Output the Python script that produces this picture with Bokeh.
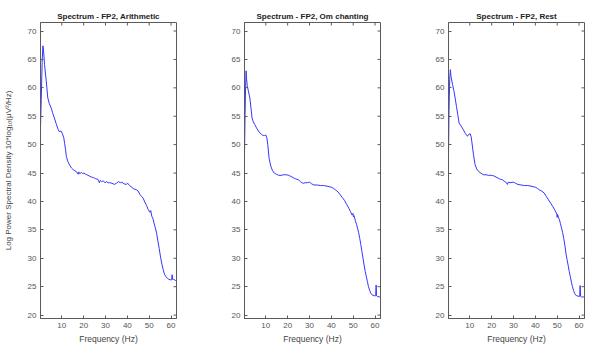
import math

from bokeh.plotting import figure
from bokeh.layouts import row
from bokeh.models import FixedTicker, Range1d
from bokeh.embed import file_html
from bokeh.resources import INLINE

# Power spectral density of channel FP2 under three conditions (dB, 10*log10(uV^2/Hz))
titles = ["Spectrum - FP2, Arithmetic", "Spectrum - FP2, Om chanting", "Spectrum - FP2, Rest"]

freq_arith = [0.25, 0.6, 1.0, 1.35, 1.6, 2.1, 2.85, 3.6, 4.3, 5.1, 5.8, 6.6, 7.5, 8.3, 8.8, 9.6,
              10.2, 10.9, 11.3, 11.7, 12.1, 12.8, 13.6, 14.4, 15.2, 16.0, 16.8, 17.5, 17.8, 18.2,
              19.0, 19.6, 20.2, 20.8, 21.5, 22.5, 23.5, 24.5, 25.5, 26.5, 27.2, 27.6, 28.2, 29.0,
              29.8, 30.5, 31.2, 32.0, 33.0, 34.0, 35.0, 36.0, 36.8, 37.5, 38.5, 39.5, 40.2, 41.0,
              42.0, 43.0, 44.0, 45.0, 45.8, 46.5, 47.2, 48.0, 48.8, 49.5, 50.3, 50.7, 51.2, 51.7,
              52.2, 52.8, 53.4, 54.0, 54.6, 55.2, 55.8, 56.4, 57.0, 57.6, 58.3, 59.0, 59.8, 60.3,
              60.5, 60.7, 61.2, 62.0, 62.5]
psd_arith = [53.0, 58.0, 64.5, 67.4, 66.8, 64.1, 61.3, 58.2, 57.2, 56.5, 55.6, 54.7, 53.6, 52.7, 52.3, 52.4,
             52.0, 51.2, 50.2, 49.2, 47.9, 47.0, 46.4, 45.9, 45.6, 45.4, 45.2, 44.8, 45.2, 44.9,
             45.1, 44.9, 45.0, 44.8, 44.7, 44.5, 44.3, 44.2, 44.0, 43.9, 43.3, 43.7, 43.5, 43.6,
             43.3, 43.5, 43.3, 43.3, 43.2, 43.0, 43.2, 43.5, 43.3, 43.4, 43.1, 43.0, 43.2, 42.8,
             42.5, 42.2, 42.1, 41.8, 41.2, 40.9, 40.6, 39.9, 39.3, 38.6, 38.1, 38.4, 37.4, 37.0,
             36.2, 35.4, 34.4, 33.0, 31.7, 30.2, 29.0, 28.0, 27.2, 26.8, 26.5, 26.3, 26.2, 26.2,
             27.1, 26.3, 26.3, 26.1, 26.0]

freq_om = [0.25, 0.5, 0.8, 1.0, 1.2, 1.5, 2.0, 2.7, 3.2, 3.7, 4.3, 5.0, 5.8, 6.6, 7.4, 8.1, 8.8,
           9.4, 10.0, 10.5, 10.9, 11.5, 12.3, 13.1, 13.9, 14.8, 15.9, 17.0, 18.2, 19.4, 20.5,
           21.5, 22.5, 23.5, 24.3, 25.0, 25.8, 26.5, 27.2, 28.0, 29.0, 30.0, 31.0, 32.0, 33.5,
           35.0, 36.5, 38.0, 39.0, 40.0, 41.0, 42.0, 43.0, 44.0, 45.0, 46.0, 47.0, 48.0, 48.8,
           49.5, 49.9, 50.1, 50.4, 51.0, 51.5, 52.0, 52.5, 53.0, 53.5, 54.0, 54.5, 55.0, 55.5,
           56.0, 56.5, 57.0, 57.5, 58.0, 58.5, 59.0, 59.8, 60.3, 60.5, 60.7, 61.0, 62.0, 62.5]
psd_om = [48.2, 55.0, 61.0, 63.0, 61.6, 60.4, 59.5, 58.2, 56.5, 54.7, 54.0, 53.5, 52.9, 52.4, 52.0, 51.8, 51.6,
          51.6, 51.7, 51.2, 50.0, 47.6, 46.2, 45.4, 45.0, 44.8, 44.6, 44.6, 44.7, 44.7, 44.6,
          44.4, 44.2, 44.0, 43.9, 43.8, 43.5, 43.3, 43.2, 43.3, 43.3, 43.4, 43.1, 42.9, 42.9,
          42.8, 42.8, 42.7, 42.6, 42.5, 42.3, 42.0, 41.7, 41.2, 40.7, 40.2, 39.5, 38.8, 38.2,
          37.6, 37.9, 37.3, 37.5, 36.6, 36.0, 35.3, 34.5, 33.5, 32.4, 31.2, 30.0, 28.8, 27.7,
          26.8, 25.9, 25.0, 24.4, 23.9, 23.6, 23.5, 23.4, 23.4, 25.3, 23.4, 23.3, 23.2, 23.2]

freq_rest = [0.25, 0.5, 0.8, 1.1, 1.4, 2.1, 2.7, 3.3, 3.9, 4.5, 5.1, 6.0, 7.1, 7.9, 8.6, 9.0, 9.4,
             10.2, 10.6, 10.9, 11.3, 11.7, 12.4, 13.2, 14.0, 15.0, 16.3, 17.5, 18.5, 20.0, 21.0,
             22.0, 23.0, 24.0, 25.0, 26.0, 26.8, 27.2, 27.6, 28.5, 30.0, 31.0, 32.0, 33.5, 35.0,
             36.5, 38.0, 39.0, 40.0, 41.0, 42.0, 43.0, 44.0, 45.0, 46.0, 47.0, 48.0, 49.0, 49.8,
             50.0, 50.2, 50.5, 51.0, 51.5, 52.0, 52.5, 53.0, 53.5, 54.0, 54.5, 55.0, 55.5, 56.0,
             56.5, 57.0, 57.5, 58.0, 58.5, 59.0, 59.8, 60.3, 60.5, 60.7, 61.0, 61.2, 61.4, 62.0, 62.5]
psd_rest = [48.2, 56.0, 61.5, 63.2, 62.0, 60.6, 59.5, 58.2, 56.7, 55.3, 53.8, 53.3, 52.6, 52.0, 51.6, 51.5, 51.8,
            51.9, 51.4, 50.6, 49.4, 48.2, 46.5, 45.7, 45.3, 45.0, 44.7, 44.7, 44.6, 44.6, 44.5,
            44.3, 44.1, 43.9, 43.8, 43.5, 43.3, 43.0, 43.4, 43.3, 43.4, 43.2, 43.0, 42.9, 42.8,
            42.8, 42.7, 42.6, 42.5, 42.3, 42.0, 41.8, 41.5, 40.9, 40.3, 39.7, 39.1, 38.4, 37.8,
            37.2, 37.7, 37.3, 36.8, 36.1, 35.3, 34.5, 33.5, 32.3, 30.9, 29.8, 28.8, 27.7, 26.8,
            25.8, 25.0, 24.3, 23.8, 23.5, 23.4, 23.3, 23.3, 25.2, 23.3, 23.2, 23.2, 23.2, 23.2, 23.2]

x_ticks = [10, 20, 30, 40, 50, 60]
y_ticks = [20, 25, 30, 35, 40, 45, 50, 55, 60, 65, 70]
y_label = "Log Power Spectral Density 10*log\u2081\u2080(\u03bcV\u00b2/Hz)"

X_MIN, X_MAX = 0.25, 62.5
Y_MIN, Y_MAX = 19.4, 71.5

FONT = "Liberation Sans"
AXIS_COLOR = "#5a5a5a"
LINE_COLOR = "#3535ff"


def panel(title, freq, psd, left, right, ylabel=None):
    p = figure(frame_width=136, frame_height=296,
               min_border_left=left, min_border_right=right,
               min_border_top=22, min_border_bottom=27,
               x_range=Range1d(X_MIN, X_MAX), y_range=Range1d(Y_MIN, Y_MAX),
               output_backend="svg", toolbar_location=None, title=title)
    p.title.align = "center"
    p.title.text_font = FONT
    p.title.text_font_size = "8px"
    p.title.text_font_style = "bold"
    p.title.text_color = "#222222"
    p.title.standoff = 3
    p.grid.visible = False
    p.outline_line_color = AXIS_COLOR
    p.background_fill_color = "white"
    p.border_fill_color = "white"

    p.xaxis.ticker = FixedTicker(ticks=x_ticks)
    p.yaxis.ticker = FixedTicker(ticks=y_ticks)
    for ax in (p.xaxis[0], p.yaxis[0]):
        ax.axis_line_color = AXIS_COLOR
        ax.major_tick_line_color = AXIS_COLOR
        ax.major_tick_in = 3
        ax.major_tick_out = 0
        ax.minor_tick_line_color = None
        ax.major_label_text_font = FONT
        ax.major_label_text_color = "#555555"
        ax.major_label_text_font_size = "8px"
        ax.major_label_standoff = 4
    p.xaxis.axis_label = "Frequency (Hz)"
    p.xaxis.axis_label_text_font = FONT
    p.xaxis.axis_label_text_font_size = "8.5px"
    p.xaxis.axis_label_text_font_style = "normal"
    p.xaxis.axis_label_text_color = "#444444"
    p.xaxis.axis_label_standoff = 3
    if ylabel:
        p.yaxis.axis_label = ylabel
        p.yaxis.axis_label_text_font = FONT
        p.yaxis.axis_label_text_font_size = "8px"
        p.yaxis.axis_label_text_font_style = "normal"
        p.yaxis.axis_label_text_color = "#444444"
        p.yaxis.axis_label_standoff = 12

    # mirrored inward ticks on the top and right edges of the box (half clipped by the frame)
    p.scatter(x_ticks, [Y_MAX] * len(x_ticks), marker="dash", angle=math.pi / 2,
              size=6, line_color=AXIS_COLOR, line_width=1)
    p.scatter([X_MAX] * len(y_ticks), y_ticks, marker="dash",
              size=6, line_color=AXIS_COLOR, line_width=1)

    p.line(freq, psd, line_color=LINE_COLOR, line_width=1)
    return p


p1 = panel(titles[0], freq_arith, psd_arith, 39, 28, y_label)
p2 = panel(titles[1], freq_om, psd_om, 40, 28)
p3 = panel(titles[2], freq_rest, psd_rest, 40, 13)

layout = row(p1, p2, p3)
open("out.html", "w").write(file_html(layout, INLINE))
